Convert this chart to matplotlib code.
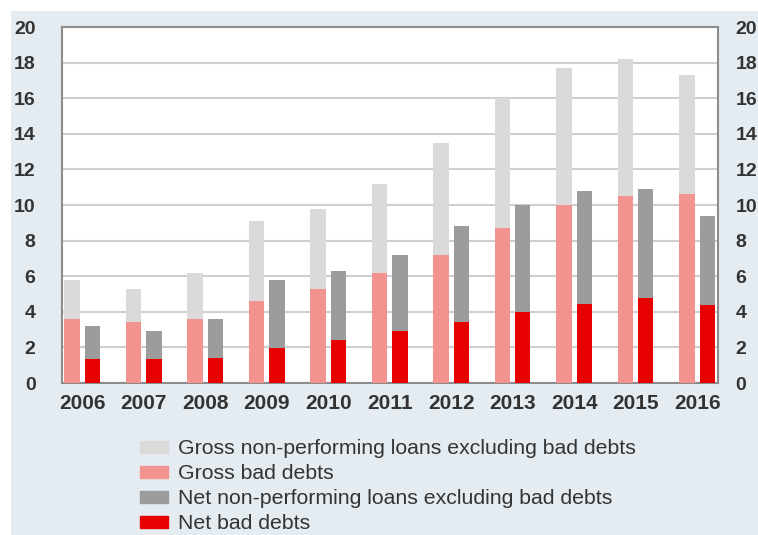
import numpy as np
import matplotlib
matplotlib.use('Agg')
import matplotlib.pyplot as plt
import matplotlib.transforms as mtransforms
from matplotlib.patches import Patch, Rectangle

plt.rcParams['font.family'] = ['Liberation Sans', 'DejaVu Sans']

# Data
years = ['2006', '2007', '2008', '2009', '2010', '2011',
         '2012', '2013', '2014', '2015', '2016']
gross_bad = [3.6, 3.4, 3.6, 4.6, 5.3, 6.2, 7.2, 8.7, 10.0, 10.5, 10.6]
gross_npl_total = [5.8, 5.3, 6.2, 9.1, 9.8, 11.2, 13.5, 16.0, 17.7, 18.2, 17.3]
net_bad = [1.35, 1.35, 1.4, 1.95, 2.4, 2.9, 3.4, 4.0, 4.45, 4.8, 4.4]
net_npl_total = [3.2, 2.9, 3.6, 5.8, 6.3, 7.2, 8.8, 10.0, 10.8, 10.9, 9.4]

labels = ['Gross non-performing loans excluding bad debts',
          'Gross bad debts',
          'Net non-performing loans excluding bad debts',
          'Net bad debts']

c_gross_npl = '#dadada'
c_gross_bad = '#f3938f'
c_net_npl = '#9c9c9c'
c_net_bad = '#e60000'
bg = '#e4ecf2'

gross_bad = np.array(gross_bad)
net_bad = np.array(net_bad)
gross_rest = np.array(gross_npl_total) - gross_bad
net_rest = np.array(net_npl_total) - net_bad

fig = plt.figure(figsize=(7.58, 5.35), dpi=100, facecolor='white')
fig.patches.append(Rectangle((11/758, 0), 1, 1 - 11/535, transform=fig.transFigure,
                             facecolor=bg, edgecolor='none', zorder=-10))

ax = fig.add_axes([62/758, 1 - 383/535, (718 - 62)/758, (383 - 27)/535])
ax.set_facecolor('white')

x = np.arange(len(years))
w = 0.25
off = 0.165
ax.bar(x - off, gross_bad, w, color=c_gross_bad, zorder=3)
ax.bar(x - off, gross_rest, w, bottom=gross_bad, color=c_gross_npl, zorder=3)
ax.bar(x + off, net_bad, w, color=c_net_bad, zorder=3)
ax.bar(x + off, net_rest, w, bottom=net_bad, color=c_net_npl, zorder=3)

ax.set_ylim(0, 20)
ax.set_xlim(-0.33, 10.34)
ax.set_yticks(np.arange(0, 21, 2))
ax.set_xticks(x)
ax.set_xticklabels(years)
ax.yaxis.grid(True, color='#cfcfcf', linewidth=1.5, zorder=0)
ax.set_axisbelow(True)
for s in ax.spines.values():
    s.set_color('#8c8c8c')
    s.set_linewidth(1.5)

ax.tick_params(axis='both', length=0, colors='#333333')
ax.tick_params(axis='y', labelsize=14, pad=19, labelright=True)
ax.tick_params(axis='x', labelsize=15, pad=8)
for t in ax.yaxis.get_major_ticks():
    t.label1.set_fontweight('bold')
    t.label2.set_fontweight('bold')
for t in ax.get_xticklabels():
    t.set_fontweight('bold')

handles = [Patch(color=c_gross_npl), Patch(color=c_gross_bad),
           Patch(color=c_net_npl), Patch(color=c_net_bad)]
leg = fig.legend(handles, labels, loc='upper left',
                 bbox_to_anchor=(131/758, 1 - 431/535), frameon=False,
                 fontsize=15.3, handlelength=1.32, handleheight=0.5,
                 handletextpad=0.47, labelspacing=0.28, borderaxespad=0)
for t in leg.get_texts():
    t.set_color('#333333')

# right-hand labels sit closer to the frame than the left ones
shift = mtransforms.ScaledTranslation(-9/100, 0, fig.dpi_scale_trans)
for t in ax.yaxis.get_major_ticks():
    t.label2.set_transform(t.label2.get_transform() + shift)

fig.savefig('out.png', dpi=100, facecolor='white')
